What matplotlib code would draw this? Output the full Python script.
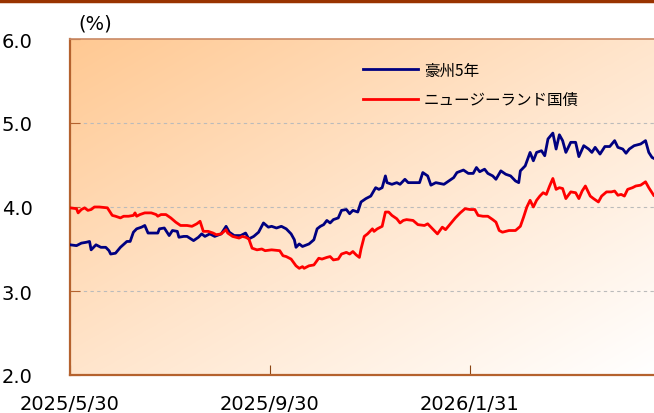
import numpy as np
import pandas as pd
import matplotlib
matplotlib.use('Agg')
import matplotlib.pyplot as plt
from matplotlib.colors import LinearSegmentedColormap
from matplotlib.lines import Line2D

plt.rcParams['font.family'] = ['DejaVu Sans', 'Noto Sans CJK JP']

# 豪州5年
au_dates = ['2025-05-30', '2025-06-03', '2025-06-06', '2025-06-09', '2025-06-11', '2025-06-12',
            '2025-06-15', '2025-06-18', '2025-06-21', '2025-06-23', '2025-06-24', '2025-06-27',
            '2025-06-30', '2025-07-04', '2025-07-06', '2025-07-08', '2025-07-10', '2025-07-13',
            '2025-07-15', '2025-07-17', '2025-07-20', '2025-07-23', '2025-07-24', '2025-07-27',
            '2025-07-30', '2025-08-01', '2025-08-04', '2025-08-05', '2025-08-08', '2025-08-10',
            '2025-08-14', '2025-08-17', '2025-08-19', '2025-08-21', '2025-08-24', '2025-08-27',
            '2025-08-31', '2025-09-03', '2025-09-05', '2025-09-08', '2025-09-12', '2025-09-15',
            '2025-09-17', '2025-09-20', '2025-09-23', '2025-09-26', '2025-09-29', '2025-10-01',
            '2025-10-04', '2025-10-07', '2025-10-10', '2025-10-13', '2025-10-15', '2025-10-16',
            '2025-10-18', '2025-10-20', '2025-10-24', '2025-10-27', '2025-10-29', '2025-10-31',
            '2025-11-02', '2025-11-04', '2025-11-06', '2025-11-08', '2025-11-11', '2025-11-13',
            '2025-11-16', '2025-11-18', '2025-11-20', '2025-11-23', '2025-11-25', '2025-11-28',
            '2025-12-01', '2025-12-04', '2025-12-06', '2025-12-08', '2025-12-10', '2025-12-11',
            '2025-12-14', '2025-12-17', '2025-12-19', '2025-12-22', '2025-12-24', '2025-12-28',
            '2025-12-31', '2026-01-02', '2026-01-05', '2026-01-07', '2026-01-10', '2026-01-15',
            '2026-01-18', '2026-01-21', '2026-01-23', '2026-01-27', '2026-01-30', '2026-02-02',
            '2026-02-04', '2026-02-06', '2026-02-09', '2026-02-11', '2026-02-14', '2026-02-16',
            '2026-02-19', '2026-02-22', '2026-02-25', '2026-02-28', '2026-03-02', '2026-03-03',
            '2026-03-06', '2026-03-09', '2026-03-11', '2026-03-13', '2026-03-16', '2026-03-18',
            '2026-03-20', '2026-03-23', '2026-03-25', '2026-03-27', '2026-03-29', '2026-03-31',
            '2026-04-03', '2026-04-06', '2026-04-08', '2026-04-11', '2026-04-14', '2026-04-16',
            '2026-04-18', '2026-04-21', '2026-04-24', '2026-04-27', '2026-04-30', '2026-05-02',
            '2026-05-05', '2026-05-07', '2026-05-09', '2026-05-12', '2026-05-16', '2026-05-19',
            '2026-05-21', '2026-05-23', '2026-05-24']
au_yield = [3.55, 3.54, 3.57, 3.58, 3.59, 3.49,
            3.55, 3.52, 3.52, 3.48, 3.44, 3.45,
            3.52, 3.59, 3.59, 3.70, 3.74, 3.76,
            3.78, 3.69, 3.69, 3.69, 3.74, 3.75,
            3.66, 3.72, 3.71, 3.64, 3.65, 3.65,
            3.60, 3.64, 3.68, 3.65, 3.68, 3.65,
            3.68, 3.77, 3.70, 3.66, 3.66, 3.69,
            3.62, 3.65, 3.70, 3.81, 3.76, 3.77,
            3.75, 3.77, 3.74, 3.68, 3.61, 3.52,
            3.56, 3.53, 3.56, 3.61, 3.74, 3.77,
            3.79, 3.84, 3.81, 3.85, 3.87, 3.96,
            3.97, 3.92, 3.96, 3.94, 4.06, 4.10,
            4.13, 4.23, 4.21, 4.23, 4.37, 4.29,
            4.27, 4.29, 4.27, 4.33, 4.29, 4.29,
            4.29, 4.41, 4.37, 4.26, 4.29, 4.27,
            4.31, 4.35, 4.41, 4.44, 4.40, 4.40,
            4.47, 4.42, 4.45, 4.40, 4.37, 4.33,
            4.43, 4.39, 4.37, 4.31, 4.29, 4.43,
            4.49, 4.65, 4.55, 4.65, 4.67, 4.61,
            4.81, 4.88, 4.69, 4.86, 4.79, 4.65,
            4.77, 4.77, 4.60, 4.73, 4.69, 4.65,
            4.71, 4.63, 4.72, 4.72, 4.79, 4.71,
            4.69, 4.64, 4.69, 4.73, 4.75, 4.79,
            4.65, 4.59, 4.58]

# ニュージーランド国債
nz_dates = ['2025-05-30', '2025-06-03', '2025-06-04', '2025-06-06', '2025-06-08', '2025-06-10',
            '2025-06-12', '2025-06-14', '2025-06-17', '2025-06-22', '2025-06-23', '2025-06-25',
            '2025-06-27', '2025-06-30', '2025-07-02', '2025-07-05', '2025-07-08', '2025-07-09',
            '2025-07-10', '2025-07-12', '2025-07-15', '2025-07-19', '2025-07-22', '2025-07-23',
            '2025-07-25', '2025-07-28', '2025-07-31', '2025-08-03', '2025-08-06', '2025-08-10',
            '2025-08-13', '2025-08-16', '2025-08-18', '2025-08-20', '2025-08-23', '2025-08-26',
            '2025-08-28', '2025-08-31', '2025-09-03', '2025-09-04', '2025-09-07', '2025-09-11',
            '2025-09-13', '2025-09-15', '2025-09-17', '2025-09-19', '2025-09-22', '2025-09-25',
            '2025-09-27', '2025-10-01', '2025-10-06', '2025-10-08', '2025-10-10', '2025-10-13',
            '2025-10-16', '2025-10-18', '2025-10-20', '2025-10-21', '2025-10-24', '2025-10-27',
            '2025-10-30', '2025-11-01', '2025-11-04', '2025-11-06', '2025-11-08', '2025-11-11',
            '2025-11-13', '2025-11-16', '2025-11-18', '2025-11-20', '2025-11-22', '2025-11-24',
            '2025-11-25', '2025-11-27', '2025-11-29', '2025-12-02', '2025-12-03', '2025-12-05',
            '2025-12-08', '2025-12-10', '2025-12-12', '2025-12-14', '2025-12-17', '2025-12-19',
            '2025-12-21', '2025-12-23', '2025-12-27', '2025-12-30', '2026-01-03', '2026-01-05',
            '2026-01-08', '2026-01-11', '2026-01-14', '2026-01-16', '2026-01-19', '2026-01-22',
            '2026-01-25', '2026-01-28', '2026-01-31', '2026-02-03', '2026-02-05', '2026-02-08',
            '2026-02-11', '2026-02-14', '2026-02-16', '2026-02-18', '2026-02-20', '2026-02-24',
            '2026-02-28', '2026-03-03', '2026-03-05', '2026-03-07', '2026-03-09', '2026-03-11',
            '2026-03-13', '2026-03-15', '2026-03-17', '2026-03-19', '2026-03-21', '2026-03-23',
            '2026-03-25', '2026-03-27', '2026-03-29', '2026-03-31', '2026-04-03', '2026-04-06',
            '2026-04-08', '2026-04-10', '2026-04-12', '2026-04-15', '2026-04-17', '2026-04-20',
            '2026-04-22', '2026-04-25', '2026-04-28', '2026-04-30', '2026-05-02', '2026-05-04',
            '2026-05-06', '2026-05-08', '2026-05-11', '2026-05-13', '2026-05-16', '2026-05-19',
            '2026-05-21', '2026-05-23', '2026-05-24']
nz_yield = [3.99, 3.98, 3.93, 3.97, 3.99, 3.96,
            3.97, 4.00, 4.00, 3.99, 3.96, 3.90,
            3.89, 3.87, 3.89, 3.89, 3.90, 3.93,
            3.89, 3.91, 3.93, 3.93, 3.91, 3.89,
            3.91, 3.91, 3.87, 3.82, 3.78, 3.78,
            3.77, 3.80, 3.83, 3.71, 3.71, 3.69,
            3.67, 3.68, 3.73, 3.69, 3.65, 3.63,
            3.65, 3.64, 3.62, 3.51, 3.49, 3.50,
            3.48, 3.49, 3.48, 3.42, 3.41, 3.38,
            3.30, 3.27, 3.29, 3.27, 3.30, 3.31,
            3.39, 3.38, 3.40, 3.41, 3.37, 3.38,
            3.44, 3.46, 3.44, 3.47, 3.43, 3.40,
            3.50, 3.65, 3.68, 3.74, 3.71, 3.74,
            3.77, 3.94, 3.94, 3.90, 3.86, 3.81,
            3.84, 3.85, 3.84, 3.79, 3.78, 3.80,
            3.74, 3.68, 3.76, 3.73, 3.80, 3.87,
            3.93, 3.98, 3.97, 3.97, 3.90, 3.89,
            3.89, 3.85, 3.82, 3.72, 3.70, 3.72,
            3.72, 3.77, 3.88, 4.00, 4.08, 4.00,
            4.08, 4.13, 4.17, 4.15, 4.25, 4.34,
            4.21, 4.23, 4.22, 4.10, 4.18, 4.17,
            4.10, 4.19, 4.25, 4.13, 4.10, 4.06,
            4.13, 4.18, 4.18, 4.19, 4.14, 4.15,
            4.13, 4.21, 4.23, 4.25, 4.26, 4.30,
            4.23, 4.17, 4.14]

series_names = ['豪州5年', 'ニュージーランド国債']
x_ticks = ['2025-05-30', '2025-09-30', '2026-01-31']
x_tick_labels = ['2025/5/30', '2025/9/30', '2026/1/31']
y_ticks = [2.0, 3.0, 4.0, 5.0, 6.0]

fig = plt.figure(figsize=(6.54, 4.14), dpi=100)
ax = fig.add_axes([70 / 654, 38 / 414, 1 - 70 / 654, 336 / 414])

# diagonal orange (top-left) -> white (bottom-right) background
cmap = LinearSegmentedColormap.from_list('bg', ['#FFC993', '#FFE5CC', '#FFFFFF'])
gx, gy = np.meshgrid(np.linspace(0, 1, 300), np.linspace(0, 1, 300))
grad = (gx + gy) / 2
ax.imshow(grad, cmap=cmap, extent=[0, 1, 0, 1], transform=ax.transAxes,
          aspect='auto', origin='upper', zorder=0)

ax.plot(pd.to_datetime(au_dates), au_yield, color='#000080', lw=2.0, label=series_names[0], zorder=3)
ax.plot(pd.to_datetime(nz_dates), nz_yield, color='#FF0000', lw=2.0, label=series_names[1], zorder=3)

ax.set_xlim(pd.Timestamp('2025-05-30'), pd.Timestamp('2026-05-24 05:00'))
ax.set_ylim(2.0, 6.0)
ax.set_yticks(y_ticks)
ax.set_yticklabels([f'{v:.1f}' for v in y_ticks])
ax.set_xticks(pd.to_datetime(x_ticks))
ax.set_xticklabels(x_tick_labels)

for v in [3.0, 4.0, 5.0]:
    ax.axhline(v, color='#BBBBBB', lw=0.8, ls=(0, (3, 3)), zorder=1)

edge = '#B5622E'
for s in ['left', 'bottom', 'top']:
    ax.spines[s].set_color(edge)
    ax.spines[s].set_linewidth(1.6)
ax.spines['top'].set_color('#C98A66')
ax.spines['top'].set_linewidth(1.2)
ax.spines['right'].set_visible(False)

ax.tick_params(axis='y', direction='in', length=7, color=edge, labelsize=14, pad=27)
ax.tick_params(axis='x', direction='in', length=7, color='#8B4513', labelsize=14, pad=14)

fig.text(78 / 654, 1 - 24 / 414, '(%)', fontsize=14, va='center', ha='left')

# top border line
fig.add_artist(Line2D([0, 1], [1 - 1.5 / 414, 1 - 1.5 / 414], color='#993300', lw=2.5,
                      transform=fig.transFigure))

leg = ax.legend(loc='upper left', bbox_to_anchor=(0.502, 0.933), frameon=False,
                prop={'family': ['Noto Sans CJK JP'], 'size': 11.2},
                handlelength=3.5, handletextpad=0.4, labelspacing=0.8,
                borderpad=0, borderaxespad=0)

fig.savefig('out.png', dpi=100)
